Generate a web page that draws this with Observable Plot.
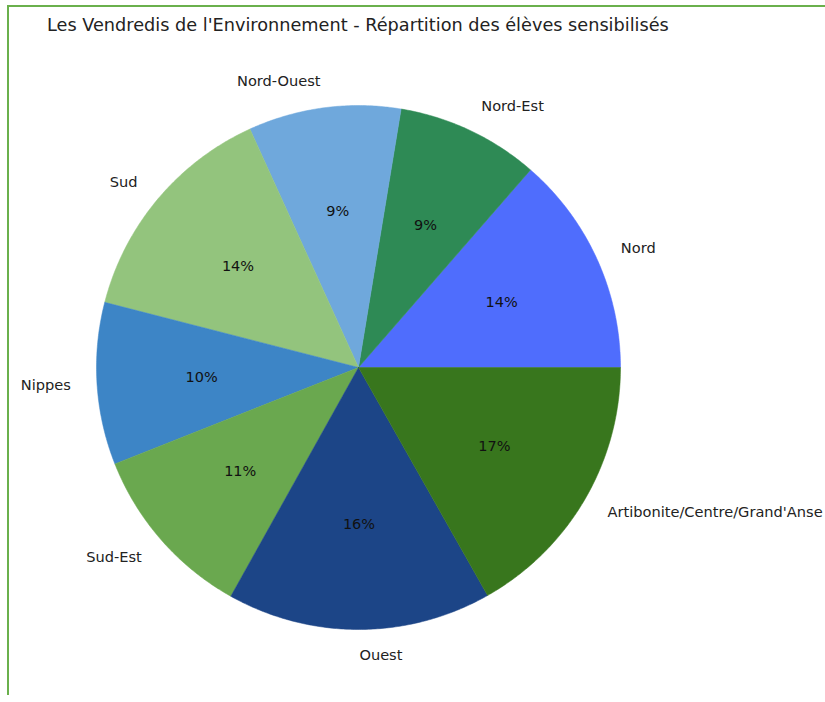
<!DOCTYPE html>
<html>
<head>
<meta charset="utf-8">
<script src="https://cdn.jsdelivr.net/npm/d3@7"></script>
<script src="https://cdn.jsdelivr.net/npm/@observablehq/plot@0.6"></script>
<style>
  html, body { margin: 0; padding: 0; background: #fff; width: 825px; height: 702px; overflow: hidden; }
  #frame { position: absolute; left: 7px; top: 5px; width: 830px; height: 688px;
           border-left: 2px solid #6ab04c; border-top: 2px solid #6ab04c; }
  #title { position: absolute; left: 47px; top: 15px; font-family: "DejaVu Sans", sans-serif;
           font-size: 17.7px; color: #222; white-space: nowrap; }
  #chart { position: absolute; left: 0; top: 40px; }
</style>
</head>
<body>
<div id="frame"></div>
<div id="title">Les Vendredis de l'Environnement - Répartition des élèves sensibilisés</div>
<div id="chart"></div>
<script>
const regions = ["Nord", "Nord-Est", "Nord-Ouest", "Sud", "Nippes", "Sud-Est", "Ouest", "Artibonite/Centre/Grand'Anse"];
const shares = [13.6, 8.8, 9.4, 14.2, 10.0, 10.9, 16.3, 16.8];
const colors = ["#4f6dfd", "#2e8a55", "#6fa8dc", "#93c47d", "#3d85c6", "#6aa84f", "#1c4587", "#38761d"];

const total = d3.sum(shares);
let acc = 0;
const slices = regions.map((name, i) => {
  const a0 = acc / total * 2 * Math.PI;
  acc += shares[i];
  const a1 = acc / total * 2 * Math.PI;
  return {name, value: shares[i], a0, a1, mid: (a0 + a1) / 2};
});

// polygon outline of each wedge (unit radius, counter-clockwise from 3 o'clock)
const outline = [];
for (const s of slices) {
  outline.push({name: s.name, x: 0, y: 0});
  const n = Math.max(2, Math.ceil((s.a1 - s.a0) / (Math.PI / 360)));
  for (let k = 0; k <= n; k++) {
    const a = s.a0 + (s.a1 - s.a0) * k / n;
    outline.push({name: s.name, x: Math.cos(a), y: Math.sin(a)});
  }
  outline.push({name: s.name, x: 0, y: 0});
}

const labels = slices.map(s => ({name: s.name, x: 1.1 * Math.cos(s.mid), y: 1.1 * Math.sin(s.mid), right: Math.cos(s.mid) >= 0}));
const pcts = slices.map(s => ({text: Math.round(s.value / total * 100) + "%", x: 0.6 * Math.cos(s.mid), y: 0.6 * Math.sin(s.mid)}));

const cx = 358, cy = 367 - 40, R = 262;
const chart = Plot.plot({
  width: 825,
  height: 662,
  margin: 0,
  x: {domain: [-1, 1], range: [cx - R, cx + R], axis: null},
  y: {domain: [-1, 1], range: [cy + R, cy - R], axis: null},
  color: {domain: regions, range: colors},
  style: {fontFamily: "DejaVu Sans, sans-serif", background: "transparent"},
  marks: [
    Plot.line(outline, {x: "x", y: "y", z: "name", fill: "name", stroke: "name", strokeWidth: 0.5, curve: "linear"}),
    Plot.text(pcts, {x: "x", y: "y", text: "text", fontSize: 14.5, fill: "#111"}),
    Plot.text(labels.filter(d => d.right), {x: "x", y: "y", text: "name", textAnchor: "start", fontSize: 14.6, fill: "#222"}),
    Plot.text(labels.filter(d => !d.right), {x: "x", y: "y", text: "name", textAnchor: "end", fontSize: 14.6, fill: "#222"})
  ]
});
document.getElementById("chart").appendChild(chart);
</script>
</body>
</html>
